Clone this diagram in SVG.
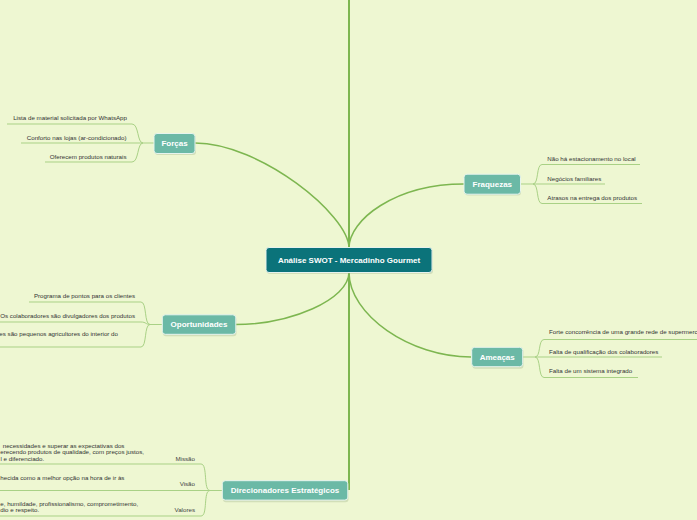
<svg xmlns="http://www.w3.org/2000/svg" width="697" height="520" viewBox="0 0 697 520">
<defs>
<style>
.main{fill:none;stroke:#7DB650;stroke-width:1.5}
.sub{fill:none;stroke:#A9D185;stroke-width:1}
.root rect{fill:#0B737A;stroke:#E6F2EE;stroke-width:1}
.topic rect{fill:#6BB9A6;stroke:#E6F4EE;stroke-width:1}
.rt{font-family:"Liberation Sans",Arial,sans-serif;font-weight:bold;font-size:8px;fill:#ffffff;text-anchor:middle}
.ct{font-family:"Liberation Sans",Arial,sans-serif;font-size:6.2px;fill:#333333}
.e{text-anchor:end}
</style>
</defs>
<rect x="0" y="0" width="697" height="520" fill="#EEF7D2"/>
<g id="connectors">
<path class="main" d="M349,0 L349,490" style="stroke-width:2"/>
<path class="main" d="M349,248 C349,215 260,143 195,143"/>
<path class="main" d="M349,248 C349,220 395,184 464,184"/>
<path class="main" d="M349,272 C349,300 290,324.5 235,324.5"/>
<path class="main" d="M349,272 C349,315 410,357 471,357"/>
<path class="sub" d="M154,143 L143,143 C137,143 139,124 132,124 L7,124"/>
<path class="sub" d="M143,143 L21,143"/>
<path class="sub" d="M143,143 C137,143 139,162 132,162 L45,162"/>
<path class="sub" d="M521,184 L533,184 C539,184 536,164.5 542,164.5 L640,164.5"/>
<path class="sub" d="M533,184 L605,184"/>
<path class="sub" d="M533,184 C539,184 536,203.5 542,203.5 L642,203.5"/>
<path class="sub" d="M162,324.5 L150,324.5 C144,324.5 147,302 141,302 L29,302"/>
<path class="sub" d="M150,324.5 C146,324.5 146,322 141,322 L0,322"/>
<path class="sub" d="M150,324.5 C144,324.5 147,347 141,347 L0,347"/>
<path class="sub" d="M522,357 L535,357 C541,357 538,339.5 544,339.5 L697,339.5"/>
<path class="sub" d="M535,357 L662,357"/>
<path class="sub" d="M535,357 C541,357 538,377.5 544,377.5 L638,377.5"/>
<path class="sub" d="M222,490.5 L210,490.5 C203,490.5 208,464 201,464 L0,464"/>
<path class="sub" d="M210,490.5 L0,490.5"/>
<path class="sub" d="M210,490.5 C203,490.5 208,516 201,516 L0,516"/>
</g>
<g id="root" class="root">
<rect x="267" y="249" width="166" height="25" rx="3" style="fill:#9DB38A;stroke:none;opacity:0.35"/>
<rect x="266" y="247.5" width="166" height="25" rx="3"/>
<text class="rt" x="349" y="263">Análise SWOT - Mercadinho Gourmet</text>
</g>
<g id="forcas" class="topic">
<rect x="155" y="135" width="41" height="20" rx="3" style="fill:#9DB38A;stroke:none;opacity:0.35"/>
<rect x="154" y="133.5" width="41" height="20" rx="3"/>
<text class="rt" x="174.5" y="146.3">Forças</text>
</g>
<g id="forcas-children">
<text class="ct e" x="127" y="120">Lista de material solicitada por WhatsApp</text>
<text class="ct e" x="126.5" y="139.7">Conforto nas lojas (ar-condicionado)</text>
<text class="ct e" x="126.5" y="158.7">Oferecem produtos naturais</text>
</g>
<g id="fraquezas" class="topic">
<rect x="465" y="175.5" width="56" height="20" rx="3" style="fill:#9DB38A;stroke:none;opacity:0.35"/>
<rect x="464" y="174.2" width="56.5" height="20" rx="3"/>
<text class="rt" x="492.3" y="187">Fraquezas</text>
</g>
<g id="fraquezas-children">
<text class="ct" x="547.3" y="161">Não há estacionamento no local</text>
<text class="ct" x="547.3" y="181">Negócios familiares</text>
<text class="ct" x="547.3" y="199.8">Atrasos na entrega dos produtos</text>
</g>
<g id="oportunidades" class="topic">
<rect x="163" y="316.3" width="73.5" height="20" rx="3" style="fill:#9DB38A;stroke:none;opacity:0.35"/>
<rect x="162.3" y="314.8" width="73.5" height="19.5" rx="3"/>
<text class="rt" x="199" y="327.3">Oportunidades</text>
</g>
<g id="oportunidades-children">
<text class="ct e" x="135" y="297.7">Programa de pontos para os clientes</text>
<text class="ct e" x="135" y="317.7">Os colaboradores são divulgadores dos produtos</text>
<text class="ct e" x="118" y="336.2">es são pequenos agricultores do interior do</text>
</g>
<g id="ameacas" class="topic">
<rect x="472.5" y="348.7" width="51" height="20" rx="3" style="fill:#9DB38A;stroke:none;opacity:0.35"/>
<rect x="471.7" y="347.3" width="51" height="19.4" rx="3"/>
<text class="rt" x="497.2" y="359.8">Ameaças</text>
</g>
<g id="ameacas-children">
<text class="ct" x="549" y="333.6">Forte concorrência de uma grande rede de supermerc</text>
<text class="ct" x="549" y="354.3">Falta de qualificação dos colaboradores</text>
<text class="ct" x="549" y="373">Falta de um sistema integrado</text>
</g>
<g id="direcionadores" class="topic">
<rect x="223" y="482.2" width="125.5" height="20" rx="3" style="fill:#9DB38A;stroke:none;opacity:0.35"/>
<rect x="222.3" y="480.7" width="125.5" height="19.4" rx="3"/>
<text class="rt" x="285" y="493.3">Direcionadores Estratégicos</text>
</g>
<g id="direcionadores-children">
<text class="ct" x="2.7" y="447.5">necessidades e superar as expectativas dos</text>
<text class="ct" x="0.3" y="454.2">erecendo produtos de qualidade, com preços justos,</text>
<text class="ct" x="0.5" y="460.8">l e diferenciado.</text>
<text class="ct e" x="195" y="460.8" style="fill:#444">Missão</text>
<text class="ct" x="0.3" y="479.5">hecida como a melhor opção na hora de ir às</text>
<text class="ct e" x="195" y="486" style="fill:#444">Visão</text>
<text class="ct" x="0.3" y="506.1">e, humildade, profissionalismo, comprometimento,</text>
<text class="ct" x="0.3" y="512.2">dio e respeito.</text>
<text class="ct e" x="195" y="512.4" style="fill:#444">Valores</text>
</g>
</svg>
